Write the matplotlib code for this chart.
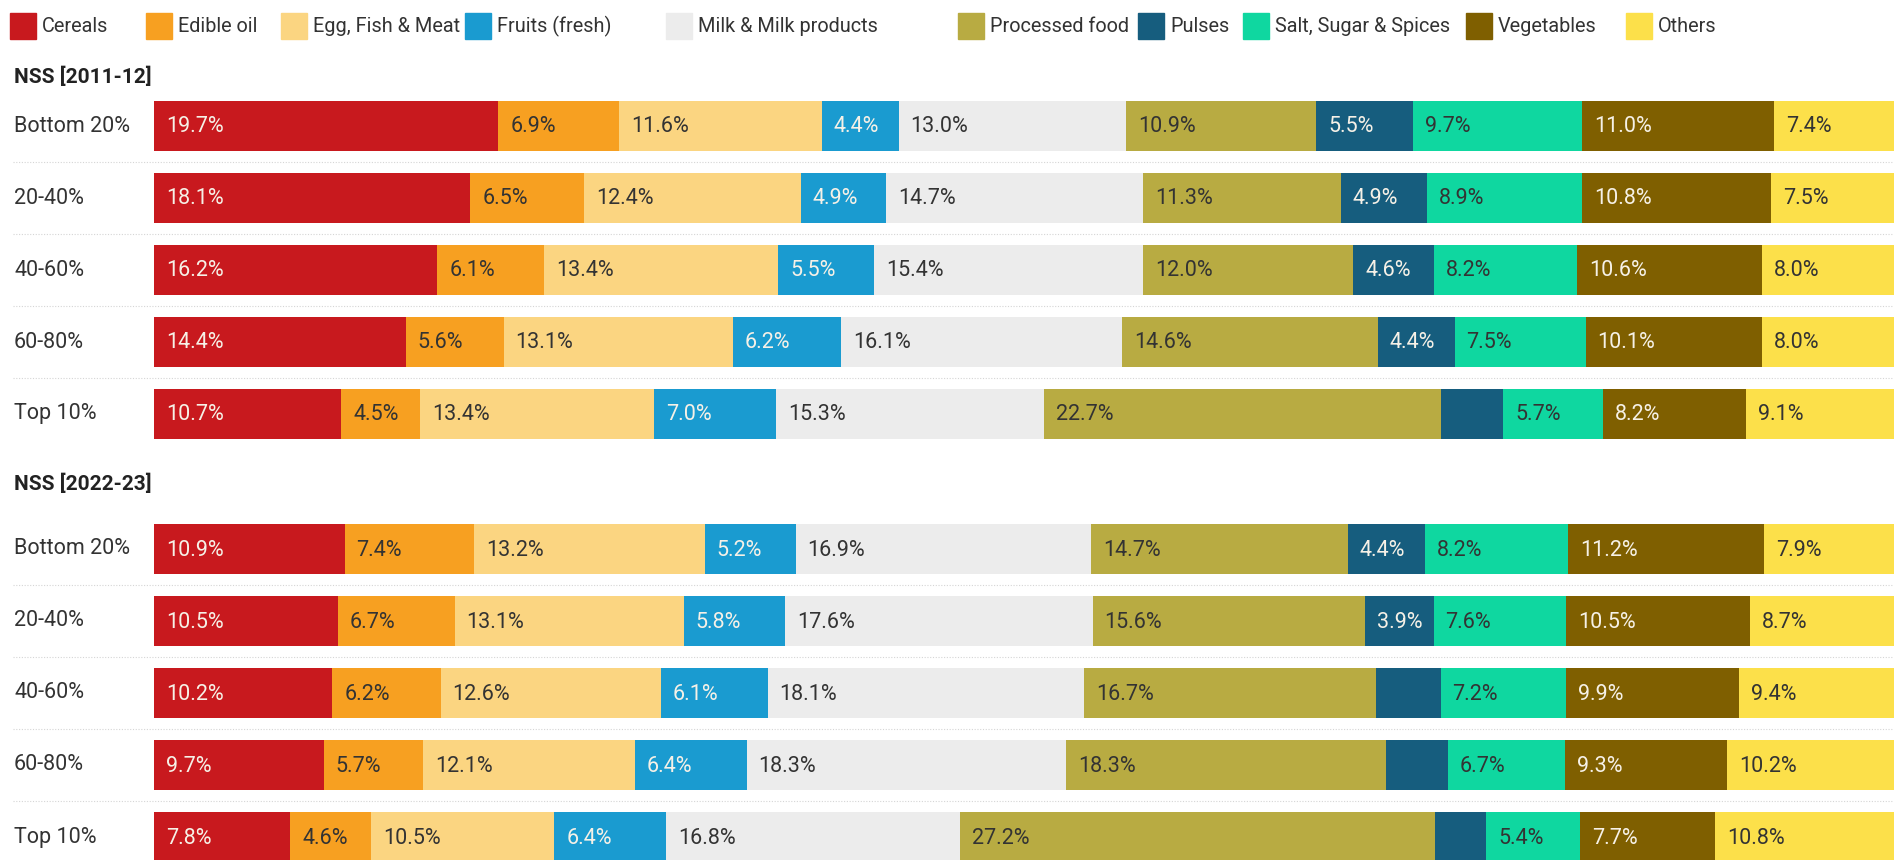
import matplotlib.pyplot as plt
from matplotlib.transforms import blended_transform_factory

plt.rcParams['font.family'] = ['Roboto', 'DejaVu Sans']

categories = ["Cereals", "Edible oil", "Egg, Fish & Meat", "Fruits (fresh)",
              "Milk & Milk products", "Processed food", "Pulses",
              "Salt, Sugar & Spices", "Vegetables", "Others"]
colors = ["#C8191E", "#F7A021", "#FBD581", "#1A9BD0", "#ECECEC",
          "#B8AB42", "#165D7E", "#0FD7A0", "#7F5F00", "#FCE04A"]
# segments that take light text
dark_fill = {"Cereals", "Fruits (fresh)", "Pulses", "Vegetables"}

groups = ["Bottom 20%", "20-40%", "40-60%", "60-80%", "Top 10%"]

# share of food spending (%) per class, same order as categories
nss_2011_12 = [
    [19.7, 6.9, 11.6, 4.4, 13.0, 10.9, 5.5, 9.7, 11.0, 7.4],
    [18.1, 6.5, 12.4, 4.9, 14.7, 11.3, 4.9, 8.9, 10.8, 7.5],
    [16.2, 6.1, 13.4, 5.5, 15.4, 12.0, 4.6, 8.2, 10.6, 8.0],
    [14.4, 5.6, 13.1, 6.2, 16.1, 14.6, 4.4, 7.5, 10.1, 8.0],
    [10.7, 4.5, 13.4, 7.0, 15.3, 22.7, 3.6, 5.7, 8.2, 9.1],
]
nss_2022_23 = [
    [10.9, 7.4, 13.2, 5.2, 16.9, 14.7, 4.4, 8.2, 11.2, 7.9],
    [10.5, 6.7, 13.1, 5.8, 17.6, 15.6, 3.9, 7.6, 10.5, 8.7],
    [10.2, 6.2, 12.6, 6.1, 18.1, 16.7, 3.7, 7.2, 9.9, 9.4],
    [9.7, 5.7, 12.1, 6.4, 18.3, 18.3, 3.5, 6.7, 9.3, 10.2],
    [7.8, 4.6, 10.5, 6.4, 16.8, 27.2, 2.9, 5.4, 7.7, 10.8],
]
surveys = ["NSS [2011-12]", "NSS [2022-23]"]

MIN_LABEL = 3.8   # narrower segments stay unlabelled
W, H = 1894, 860
X0 = 154          # left edge of the bars (px)
PX_PER_PCT = 17.48
ROW_STEP = 72     # px between rows
BAR_H = 50
first_row = [126, 549]
title_y = [77, 484]

fig = plt.figure(figsize=(W / 100, H / 100), dpi=100)
ax = fig.add_axes([X0 / W, 0, 1 - X0 / W, 1])
ax.set_xlim(0, (W - X0) / PX_PER_PCT)
ax.set_ylim(H, 0)
ax.axis("off")
blend = blended_transform_factory(fig.transFigure, ax.transData)

txt_dark = "#333333"
txt_light = "#F6F1E7"

for g, (survey, data) in enumerate(zip(surveys, [nss_2011_12, nss_2022_23])):
    fig.text(14 / W, 1 - title_y[g] / H, survey, fontsize=15, fontweight="bold",
             color="#222222", va="center", ha="left")
    for r, (name, row) in enumerate(zip(groups, data)):
        y = first_row[g] + r * ROW_STEP
        ax.text(14 / W, y, name, transform=blend, fontsize=15.5, color="#333333",
                va="center", ha="left")
        left = 0.0
        for cat, col, v in zip(categories, colors, row):
            ax.barh(y, v, left=left, height=BAR_H, color=col, edgecolor="none")
            if v >= MIN_LABEL:
                ax.text(left + 12 / PX_PER_PCT, y + 1, f"{v:.1f}%", fontsize=15.5,
                        color=txt_light if cat in dark_fill else txt_dark,
                        va="center", ha="left")
            left += v
        if r < len(groups) - 1:
            ax.plot([13 / W, 1], [y + ROW_STEP / 2] * 2, transform=blend,
                    color="#D5D5D5", lw=0.8, ls=(0, (1, 1.5)), clip_on=False)

# legend row across the top
leg_x = [10, 146, 281, 465, 666, 958, 1138, 1243, 1466, 1626]
leg_y = 26
sq = 26
for x, cat, col in zip(leg_x, categories, colors):
    fig.patches.append(plt.Rectangle((x / W, 1 - (leg_y + sq / 2) / H), sq / W, sq / H,
                                     transform=fig.transFigure, color=col, zorder=3))
    fig.text((x + sq + 6) / W, 1 - leg_y / H, cat, fontsize=14.3, color="#333333",
             va="center", ha="left")

fig.savefig("out.png", dpi=100, facecolor="white")
